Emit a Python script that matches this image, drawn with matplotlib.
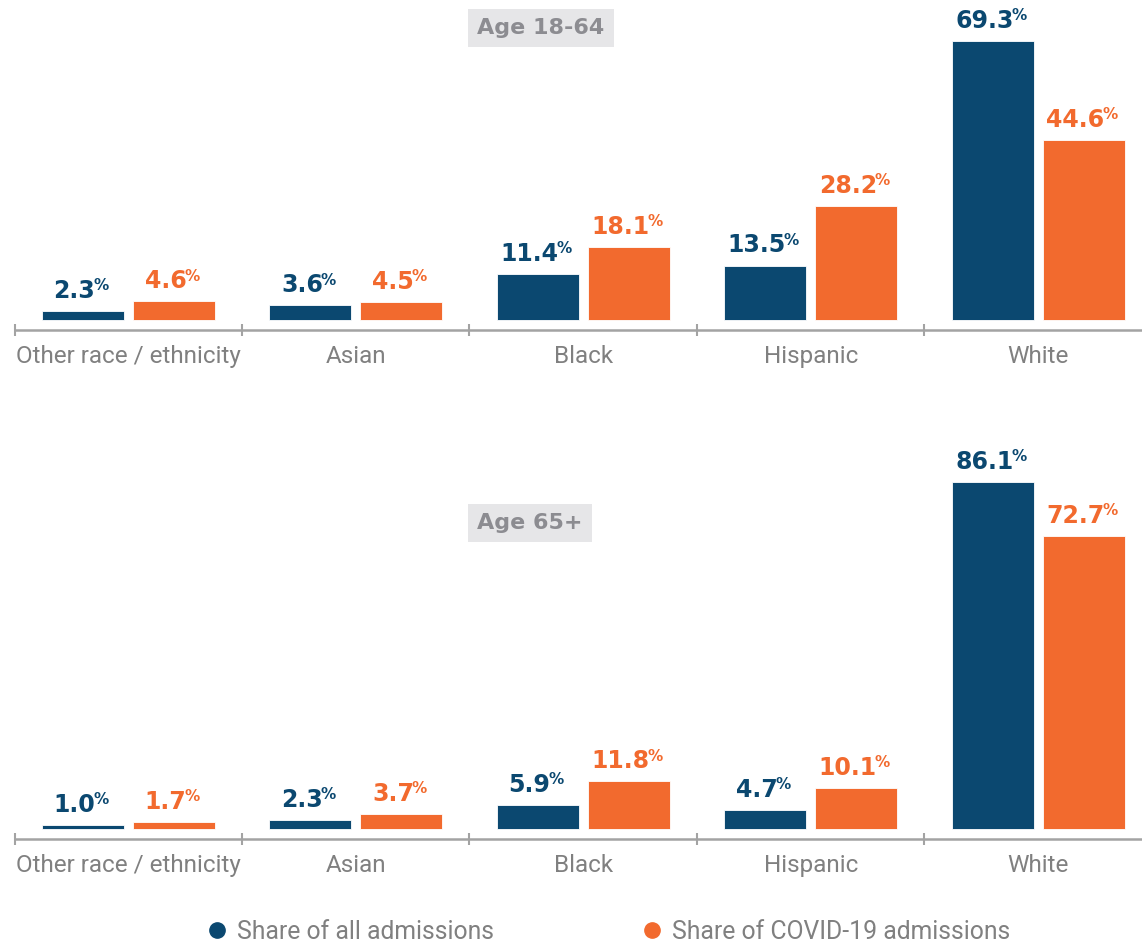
import matplotlib.pyplot as plt
from matplotlib.lines import Line2D
import numpy as np

categories = ['Other race / ethnicity', 'Asian', 'Black', 'Hispanic', 'White']
all_18_64 = [2.3, 3.6, 11.4, 13.5, 69.3]
covid_18_64 = [4.6, 4.5, 18.1, 28.2, 44.6]
all_65 = [1.0, 2.3, 5.9, 4.7, 86.1]
covid_65 = [1.7, 3.7, 11.8, 10.1, 72.7]
titles = ['Age 18-64', 'Age 65+']
series_names = ['Share of all admissions', 'Share of COVID-19 admissions']

BLUE = '#0B4870'
ORANGE = '#F26A2E'
GRAY_TXT = '#808080'
GRAY_AX = '#a3a3a3'

W, H = 1142, 944
fig = plt.figure(figsize=(W / 100, H / 100), dpi=100)

px = 4.03  # pixels per percentage point
left = 14.5 / W
width = (W - 14.5) / W
xmax = -0.5 + (W - 14.5) / 227.5


def make_axes(base_px, ymax):
    # base_px: pixel row of the zero line (from top)
    ymin = -3
    bottom = (H - (base_px - ymin * px)) / H
    height = (ymax - ymin) * px / H
    ax = fig.add_axes([left, bottom, width, height])
    ax.set_ylim(ymin, ymax)
    return ax


def draw_panel(ax, a, c, title, title_y):
    x = np.arange(len(categories))
    bw = 0.36
    ax.bar(x - 0.2, a, bw, color=BLUE, edgecolor='white', linewidth=0.6)
    ax.bar(x + 0.2, c, bw, color=ORANGE, edgecolor='white', linewidth=0.6)
    for xs, vals, col in [(x - 0.2, a, BLUE), (x + 0.2, c, ORANGE)]:
        for xi, v in zip(xs, vals):
            t = ax.annotate(f'{v:.1f}', (xi, v), xytext=(-6, 9.5),
                            textcoords='offset points', ha='center', va='baseline',
                            fontsize=17, fontweight='bold', color=col,
                            family='DejaVu Sans', annotation_clip=False)
            ax.annotate('%', xy=(1.0, 1.0), xycoords=t, xytext=(-1.5, 0.5),
                        textcoords='offset points', ha='left', va='top',
                        fontsize=11, fontweight='bold', color=col,
                        family='DejaVu Sans', annotation_clip=False)

    for s in ['top', 'right', 'left']:
        ax.spines[s].set_visible(False)
    ax.spines['bottom'].set_position(('data', -2.5))
    ax.spines['bottom'].set_color(GRAY_AX)
    ax.spines['bottom'].set_linewidth(1.8)
    ax.set_yticks([])
    ax.set_xticks(x)
    ax.set_xticklabels(categories, fontsize=17.5, color=GRAY_TXT, family='Roboto')
    ax.tick_params(axis='x', which='major', length=0, pad=10.5)
    ax.set_xticks(np.arange(-0.5, 5, 1), minor=True)
    ax.tick_params(axis='x', which='minor', length=8, width=1.5, color=GRAY_AX,
                   direction='inout')
    ax.set_xlim(-0.5, xmax)

    fig.text(477 / W, title_y, title, fontsize=16, fontweight='bold',
             color='#8c8c91', ha='left', va='center', family='DejaVu Sans',
             bbox=dict(boxstyle='square,pad=0.42', fc='#e6e6e8', ec='none'))


ax1 = make_axes(320, 76)
draw_panel(ax1, all_18_64, covid_18_64, titles[0], 1 - 28 / H)
ax2 = make_axes(829, 92)
draw_panel(ax2, all_65, covid_65, titles[1], 1 - 523 / H)

handles = [Line2D([], [], marker='o', linestyle='', color=BLUE, markersize=11),
           Line2D([], [], marker='o', linestyle='', color=ORANGE, markersize=11)]
leg = fig.legend(handles, series_names, loc='center', bbox_to_anchor=(0.534, 0.013),
                 ncol=2, frameon=False, handlelength=0.6, handletextpad=0.5,
                 columnspacing=6.1, prop={'family': 'Roboto', 'size': 17.8})
for t in leg.get_texts():
    t.set_color(GRAY_TXT)

fig.savefig('out.png', dpi=100)
